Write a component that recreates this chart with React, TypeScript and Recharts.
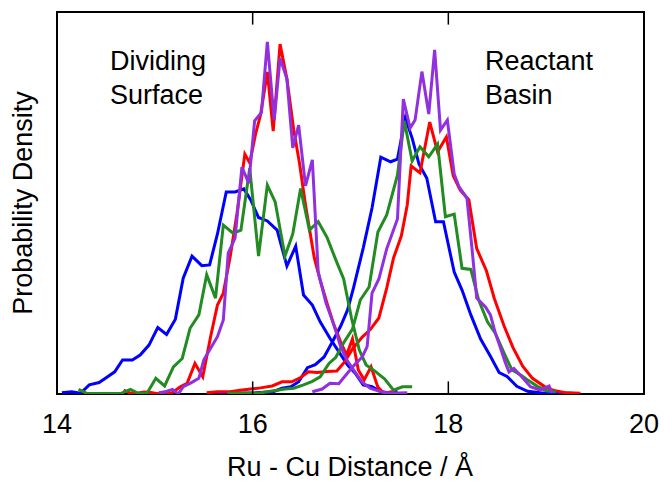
import { LineChart, Line, XAxis, YAxis, ReferenceArea, ReferenceLine } from 'recharts';

const FONT = '"Liberation Sans", Arial, Helvetica, sans-serif';

const xTicks = [14, 16, 18, 20];
const Y_MAX = 100;
const TICK_LEN = 3.3; // inward tick length, in density units

// [distance (Å), density]
const blueLeft = [
  [14.05, 0.3], [14.15, 0.6], [14.24, 0.2], [14.33, 2.4], [14.43, 3.0], [14.51, 4.4], [14.59, 5.8],
  [14.67, 8.9], [14.77, 8.9], [14.85, 10.2], [14.94, 12.8], [15.03, 17.4], [15.12, 15.6], [15.21, 19.6],
  [15.29, 30.3], [15.38, 36.1], [15.48, 33.6], [15.56, 33.8], [15.64, 41.9], [15.73, 52.9], [15.82, 52.9],
  [15.91, 53.7], [15.98, 50.8], [16.06, 46.2], [16.15, 45.3], [16.25, 42.9], [16.35, 33.5], [16.44, 38.7],
  [16.52, 25.9], [16.61, 23.3], [16.69, 18.9], [16.79, 14.6], [16.88, 11.1], [16.97, 7.6], [17.05, 5.4],
  [17.13, 2.4], [17.22, 1.9], [17.31, 0.6], [17.39, 0.3], [17.48, 0.8],
];

const blueRight = [
  [15.64, 0.2], [15.82, 0.2], [16.03, 0.3], [16.21, 0.6], [16.3, 1.5], [16.39, 1.9], [16.47, 3.2],
  [16.56, 6.9], [16.64, 7.7], [16.73, 9.7], [16.81, 13.4], [16.9, 17.8], [16.97, 22.0], [17.03, 27.7],
  [17.13, 38.2], [17.22, 48.7], [17.31, 62.0], [17.41, 60.8], [17.48, 61.5], [17.56, 72.3], [17.63, 67.0],
  [17.7, 60.2], [17.78, 56.5], [17.87, 45.1], [17.95, 45.1], [18.06, 31.9], [18.14, 27.2], [18.23, 20.7],
  [18.33, 14.4], [18.43, 9.9], [18.52, 5.6], [18.6, 4.6], [18.7, 2.0], [18.81, 0.7], [18.94, 0.3],
  [19.08, 0.2], [19.27, 0.2],
];

const greenLeft = [
  [14.22, 1.2], [14.31, 0.1], [14.39, 0.1], [14.48, 0.1], [14.56, 0.1], [14.65, 0.1], [14.75, 1.2],
  [14.83, 0.2], [14.92, 0.2], [15.01, 4.1], [15.1, 2.1], [15.19, 7.1], [15.28, 9.3], [15.36, 17.2],
  [15.45, 20.7], [15.53, 31.2], [15.62, 25.1], [15.7, 44.2], [15.8, 42.1], [15.88, 42.9], [15.97, 59.1],
  [16.06, 36.1], [16.15, 54.7], [16.23, 50.3], [16.33, 36.1], [16.41, 41.9], [16.49, 53.8], [16.58, 42.9],
  [16.67, 45.1], [16.76, 41.0], [16.85, 35.1], [16.93, 30.1], [17.01, 19.9], [17.09, 11.5], [17.16, 7.6],
  [17.25, 6.0], [17.35, 3.9], [17.44, 1.0], [17.53, 1.9], [17.63, 1.9],
];

const greenRight = [
  [15.74, 0.2], [15.93, 0.2], [16.08, 0.3], [16.25, 1.0], [16.33, 1.3], [16.42, 1.5], [16.52, 2.4],
  [16.61, 3.3], [16.69, 4.5], [16.78, 8.0], [16.85, 9.6], [16.93, 13.4], [17.02, 17.0], [17.1, 24.6],
  [17.19, 28.0], [17.28, 42.4], [17.37, 46.9], [17.48, 57.3], [17.55, 71.5], [17.63, 61.0], [17.71, 64.7],
  [17.8, 62.1], [17.89, 65.4], [17.97, 46.4], [18.06, 47.1], [18.14, 32.9], [18.23, 32.6], [18.31, 24.6],
  [18.4, 18.9], [18.48, 15.9], [18.57, 10.7], [18.65, 6.3], [18.74, 5.0], [18.82, 3.5], [18.91, 2.0],
  [19.01, 0.8], [19.1, 0.6],
];

const redLeft = [
  [14.68, 1.0], [14.75, 0.2], [14.82, 0.2], [14.89, 0.5], [14.96, 0.4], [15.03, 0.1], [15.1, 0.5],
  [15.17, 0.2], [15.26, 1.9], [15.33, 2.8], [15.41, 8.0], [15.49, 4.5], [15.57, 15.0], [15.64, 23.3],
  [15.7, 26.4], [15.77, 35.9], [15.84, 47.3], [15.92, 62.8], [15.97, 60.5], [16.03, 68.1], [16.08, 73.0],
  [16.15, 84.3], [16.21, 68.8], [16.28, 91.6], [16.35, 82.5], [16.42, 69.1], [16.48, 60.2], [16.54, 49.5],
  [16.63, 35.6], [16.69, 29.8], [16.76, 23.8], [16.83, 18.1], [16.9, 13.6], [16.96, 10.2], [17.02, 14.4],
  [17.08, 6.3], [17.14, 3.7], [17.21, 7.1], [17.28, 1.8], [17.35, 0.0], [17.41, 0.6], [17.48, 0.1],
];

const redRight = [
  [15.53, 0.3], [15.64, 0.6], [15.77, 0.6], [15.87, 1.0], [15.98, 1.3], [16.08, 1.6], [16.2, 2.1],
  [16.3, 3.2], [16.4, 3.2], [16.49, 4.3], [16.57, 5.8], [16.66, 5.6], [16.76, 5.9], [16.86, 6.0],
  [16.94, 8.4], [17.02, 11.8], [17.12, 14.9], [17.2, 16.8], [17.29, 19.9], [17.37, 27.7], [17.44, 35.6],
  [17.52, 41.4], [17.58, 49.5], [17.62, 59.7], [17.71, 57.9], [17.81, 71.2], [17.89, 63.4], [17.98, 67.3],
  [18.05, 57.1], [18.12, 53.4], [18.21, 50.8], [18.29, 38.1], [18.39, 32.2], [18.47, 25.0], [18.57, 17.8],
  [18.66, 12.2], [18.76, 7.3], [18.86, 4.1], [18.98, 2.0], [19.08, 0.9], [19.21, 0.3], [19.35, 0.2],
];

const purpleLeft = [
  [15.04, 0.3], [15.11, 0.6], [15.18, 1.2], [15.24, 0.0], [15.29, 1.9], [15.36, 2.8], [15.45, 4.1],
  [15.5, 8.9], [15.57, 12.0], [15.64, 15.0], [15.7, 19.4], [15.75, 36.9], [15.82, 40.8], [15.89, 59.4],
  [15.96, 55.2], [16.02, 71.5], [16.09, 73.7], [16.15, 92.2], [16.22, 71.7], [16.28, 87.9], [16.35, 82.5],
  [16.41, 64.4], [16.47, 70.4], [16.54, 54.5], [16.61, 61.3], [16.67, 31.9], [16.75, 23.8], [16.83, 18.1],
  [16.9, 12.4], [16.97, 8.6], [17.04, 6.0], [17.12, 3.1], [17.2, 1.5], [17.31, 0.6], [17.41, 0.2],
  [17.58, 0.3],
];

const purpleRight = [
  [16.61, 0.6], [16.71, 1.3], [16.79, 2.8], [16.88, 2.7], [16.97, 5.5], [17.05, 7.9], [17.12, 9.7],
  [17.17, 12.4], [17.22, 26.4], [17.29, 30.1], [17.37, 38.0], [17.48, 45.8], [17.54, 77.2], [17.61, 69.6],
  [17.66, 71.7], [17.73, 84.4], [17.8, 73.3], [17.86, 90.1], [17.92, 69.1], [17.99, 71.7], [18.06, 57.6],
  [18.11, 54.2], [18.19, 51.3], [18.24, 38.6], [18.29, 25.1], [18.38, 22.8], [18.43, 20.7], [18.48, 16.0],
  [18.53, 12.3], [18.58, 8.4], [18.62, 5.8], [18.67, 6.7], [18.75, 4.5], [18.84, 1.9], [18.94, 1.0],
  [19.03, 2.1], [19.06, 0.3],
];

const series = [
  { id: 'blueLeft', color: '#0000ff', pts: blueLeft },
  { id: 'blueRight', color: '#0000ff', pts: blueRight },
  { id: 'redLeft', color: '#ff0000', pts: redLeft },
  { id: 'redRight', color: '#ff0000', pts: redRight },
  { id: 'greenLeft', color: '#228b22', pts: greenLeft },
  { id: 'greenRight', color: '#228b22', pts: greenRight },
  { id: 'purpleLeft', color: '#9030e0', pts: purpleLeft },
  { id: 'purpleRight', color: '#9030e0', pts: purpleRight },
];

const toRows = (pts: number[][]) => pts.map(([x, y]) => ({ x, y }));

const textStyle = { fontFamily: FONT, fontSize: 27, fill: '#000' };

export default function App() {
  return (
    <div style={{ position: 'absolute', left: 0, top: 0 }}>
      <LineChart width={664} height={492} margin={{ top: 12, right: 20, left: 57, bottom: 0 }}>
        <XAxis
          xAxisId="bottom"
          dataKey="x"
          type="number"
          domain={[14, 20]}
          ticks={xTicks}
          allowDataOverflow
          height={98}
          tickSize={0}
          tickMargin={20}
          axisLine={false}
          tickLine={false}
          tick={{ fill: '#000', fontSize: 27, fontFamily: FONT }}
        />
        <YAxis yAxisId="left" domain={[0, Y_MAX]} allowDataOverflow width={0} hide />
        {series.map((s) => (
          <Line
            key={s.id}
            xAxisId="bottom"
            yAxisId="left"
            data={toRows(s.pts)}
            dataKey="y"
            type="linear"
            stroke={s.color}
            strokeWidth={3}
            dot={false}
            activeDot={false}
            isAnimationActive={false}
          />
        ))}
        {xTicks.map((t) => (
          <ReferenceLine key={`b${t}`} xAxisId="bottom" yAxisId="left" ifOverflow="visible"
            segment={[{ x: t, y: 0 }, { x: t, y: TICK_LEN }]} stroke="#000" strokeWidth={1.5} />
        ))}
        {xTicks.map((t) => (
          <ReferenceLine key={`t${t}`} xAxisId="bottom" yAxisId="left" ifOverflow="visible"
            segment={[{ x: t, y: Y_MAX - TICK_LEN }, { x: t, y: Y_MAX }]} stroke="#000" strokeWidth={1.5} />
        ))}
        <ReferenceArea xAxisId="bottom" yAxisId="left" x1={14} x2={20} y1={0} y2={Y_MAX} ifOverflow="visible"
          fill="none" fillOpacity={0} stroke="#000" strokeWidth={2} />
        <text x={110} y={70} style={textStyle}>Dividing</text>
        <text x={110} y={104} style={textStyle}>Surface</text>
        <text x={485} y={70} style={textStyle}>Reactant</text>
        <text x={485} y={104} style={textStyle}>Basin</text>
        <text x={350} y={476} textAnchor="middle" style={textStyle}>Ru - Cu Distance / Å</text>
        <text x={32} y={203} textAnchor="middle" transform="rotate(-90 32 203)" style={textStyle}>
          Probability Density
        </text>
      </LineChart>
    </div>
  );
}
